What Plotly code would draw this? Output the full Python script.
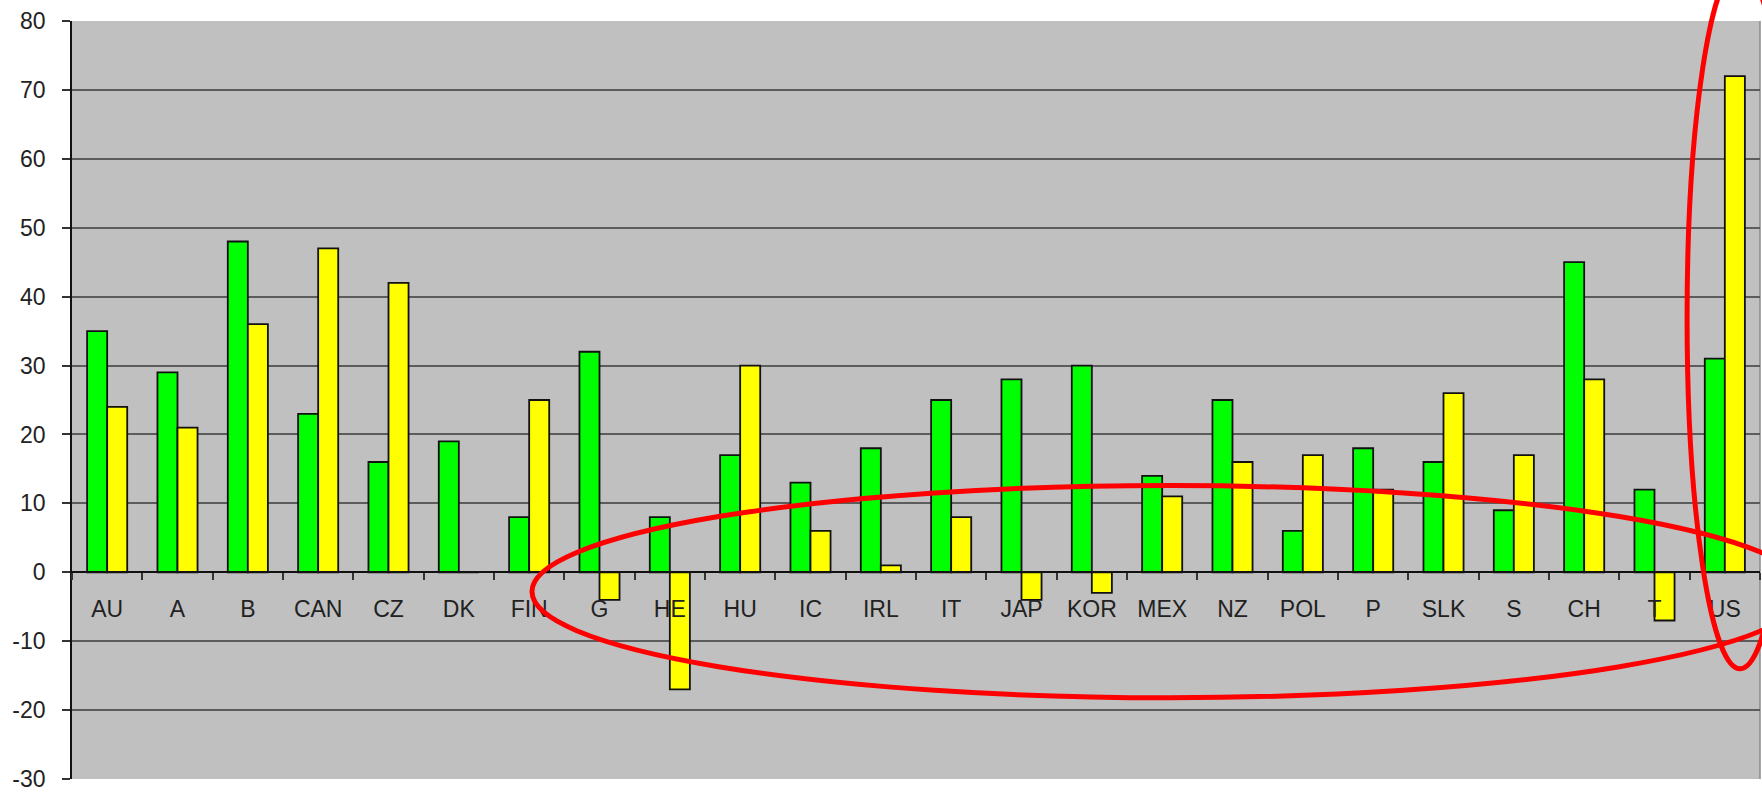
import plotly.graph_objects as go

# Country codes along the category axis
countries = ["AU", "A", "B", "CAN", "CZ", "DK", "FIN", "G", "HE", "HU", "IC", "IRL",
             "IT", "JAP", "KOR", "MEX", "NZ", "POL", "P", "SLK", "S", "CH", "T", "US"]

# First series (green bars)
green_values = [35, 29, 48, 23, 16, 19, 8, 32, 8, 17, 13, 18,
                25, 28, 30, 14, 25, 6, 18, 16, 9, 45, 12, 31]

# Second series (yellow bars)
yellow_values = [24, 21, 36, 47, 42, 0, 25, -4, -17, 30, 6, 1,
                 8, -4, -3, 11, 16, 17, 12, 26, 17, 28, -7, 72]

# Value axis ticks
y_ticks = [-30, -20, -10, 0, 10, 20, 30, 40, 50, 60, 70, 80]
y_tick_text = ["-30", "-20", "-10", "0", "10", "20", "30", "40", "50", "60", "70", "80"]

Y_MIN, Y_MAX = -30, 80
FONT = "Arial, Liberation Sans, sans-serif"

fig = go.Figure()
fig.add_trace(go.Bar(
    x=countries, y=green_values, name="green",
    marker=dict(color="#00FF00", line=dict(color="#111111", width=1.8)),
))
fig.add_trace(go.Bar(
    x=countries, y=yellow_values, name="yellow",
    marker=dict(color="#FFFF00", line=dict(color="#111111", width=1.8)),
))

# Red highlight rings (paper coordinates)
highlight_rings = [
    dict(x0=0.2725, x1=1.0273, y0=0.1072, y1=0.3872),
    dict(x0=0.9568, x1=1.0196, y0=0.1454, y1=1.0725),
]
for ring in highlight_rings:
    fig.add_shape(type="circle", xref="paper", yref="paper",
                  line=dict(color="#FF0000", width=5), layer="above", **ring)

# thin frame on the right edge of the plot area
fig.add_shape(type="line", xref="paper", yref="paper", x0=1, x1=1, y0=0, y1=1,
              line=dict(color="#8a8a8a", width=1.5), layer="below")

fig.update_layout(
    width=1762, height=792,
    margin=dict(l=72, r=2, t=21, b=13),
    paper_bgcolor="white",
    plot_bgcolor="#C0C0C0",
    barmode="group",
    bargap=0.43,
    bargroupgap=0,
    showlegend=False,
    font=dict(family=FONT, size=23, color="#222222"),
    xaxis=dict(
        type="category",
        anchor="free",
        position=(0 - Y_MIN) / (Y_MAX - Y_MIN),
        showline=True, linecolor="#111111", linewidth=1.6,
        ticks="outside", tickson="boundaries", ticklen=7, tickwidth=1.5,
        tickcolor="#333333",
        showgrid=False,
        automargin=False,
        ticklabelstandoff=16,
        tickfont=dict(family=FONT, size=23, color="#222222"),
        range=[-0.5, len(countries) - 0.5],
    ),
    yaxis=dict(
        range=[Y_MIN, Y_MAX],
        tickmode="array", tickvals=y_ticks, ticktext=y_tick_text,
        showline=True, linecolor="#111111", linewidth=1.6,
        ticks="outside", ticklen=8, tickwidth=1.5, tickcolor="#333333",
        showgrid=True, gridcolor="#5c5c5c", gridwidth=1.6,
        zeroline=False,
        automargin=False,
        ticklabelstandoff=12,
        ticklabeloverflow="allow",
        tickfont=dict(family=FONT, size=23, color="#222222"),
    ),
)

fig.write_html("out.html")
